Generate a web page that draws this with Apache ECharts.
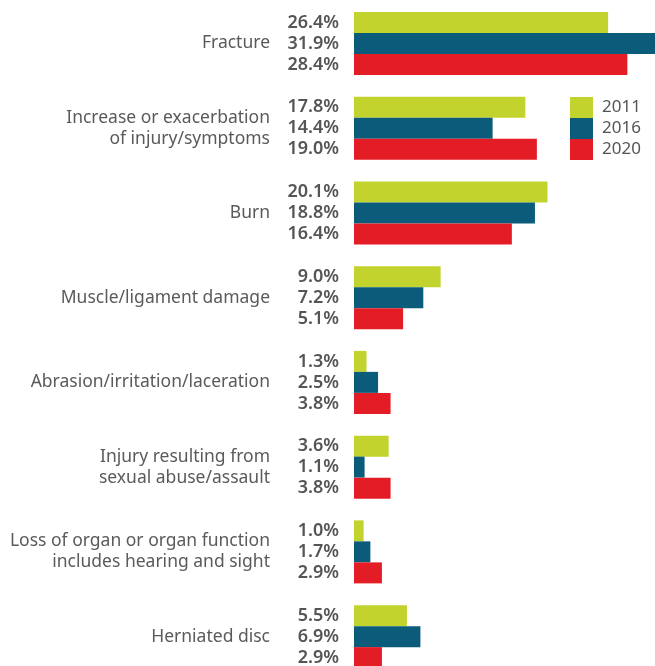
<!DOCTYPE html>
<html>
<head>
<meta charset="UTF-8">
<title></title>
<style type="text/css">
	* { margin: 0; padding: 0; }
	#bar { width: 655px; height: 666px; }
</style>
</head>
<body>
<div id="bar"></div>
<script src="https://cdn.jsdelivr.net/npm/echarts@6/dist/echarts.min.js"></script>
<script type="text/javascript">
	// 类别
	var categories = [
		'Fracture',
		'Increase or exacerbation\nof injury/symptoms',
		'Burn',
		'Muscle/ligament damage',
		'Abrasion/irritation/laceration',
		'Injury resulting from\nsexual abuse/assault',
		'Loss of organ or organ function\nincludes hearing and sight',
		'Herniated disc'
	];
	var years = ['2011', '2016', '2020'];
	var data2011 = [26.4, 17.8, 20.1, 9.0, 1.3, 3.6, 1.0, 5.5];
	var data2016 = [31.9, 14.4, 18.8, 7.2, 2.5, 1.1, 1.7, 6.9];
	var data2020 = [28.4, 19.0, 16.4, 5.1, 3.8, 3.8, 2.9, 2.9];
	var colors = ['#c2d32d', '#0b5c7a', '#e41c25'];

	var myChart = echarts.init(document.getElementById('bar'));

	function makeSeries(name, data, color) {
		return {
			name: name,
			type: 'bar',
			data: data,
			barWidth: 21,
			barGap: '0%',
			itemStyle: { color: color },
			label: {
				show: true,
				position: 'left',
				distance: 15,
				formatter: function (p) { return p.value.toFixed(1) + '%'; },
				fontFamily: 'Noto Sans',
				fontWeight: 600,
				fontSize: 18,
				color: '#555'
			}
		};
	}

	var option = {
		animation: false,
		legend: {
			orient: 'vertical',
			left: 570,
			top: 97,
			padding: 0,
			itemWidth: 23,
			itemHeight: 21,
			itemGap: 0,
			icon: 'rect',
			data: years,
			textStyle: { fontFamily: 'Noto Sans', fontSize: 17, color: '#555', padding: [0, 0, 0, 4] }
		},
		grid: { left: 354, right: -7, top: 1, bottom: -13, outerBoundsMode: 'none' },
		xAxis: {
			type: 'value',
			min: 0,
			max: 32,
			show: false
		},
		yAxis: {
			type: 'category',
			inverse: true,
			data: categories,
			axisLine: { show: false },
			axisTick: { show: false },
			axisLabel: {
				margin: 84,
				fontFamily: 'Noto Sans',
				fontSize: 17.5,
				lineHeight: 21,
				color: '#5a5a5a',
				align: 'right'
			}
		},
		series: [
			makeSeries(years[0], data2011, colors[0]),
			makeSeries(years[1], data2016, colors[1]),
			makeSeries(years[2], data2020, colors[2])
		]
	};
	myChart.setOption(option);
</script>
</body>
</html>
